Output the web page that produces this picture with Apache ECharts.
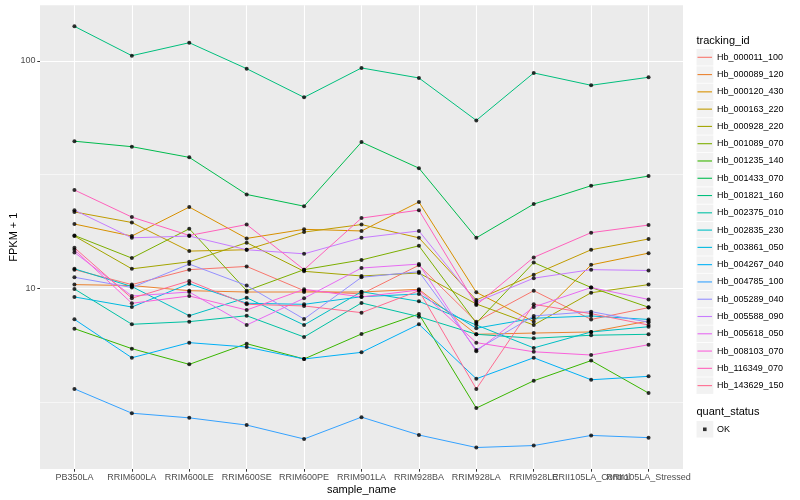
<!DOCTYPE html>
<html><head><meta charset="utf-8">
<script src="https://cdn.jsdelivr.net/npm/echarts@6/dist/echarts.min.js"></script>
<style>html,body{margin:0;padding:0;background:#fff}#c{width:800px;height:500px}</style>
</head><body><div id="c"></div>
<script>
const categories = ['PB350LA','RRIM600LA','RRIM600LE','RRIM600SE','RRIM600PE','RRIM901LA','RRIM928BA','RRIM928LA','RRIM928LE','RRII105LA_Control','RRII105LA_Stressed'];
const trackingIds = ['Hb_000011_100','Hb_000089_120','Hb_000120_430','Hb_000163_220','Hb_000928_220','Hb_001089_070','Hb_001235_140','Hb_001433_070','Hb_001821_160','Hb_002375_010','Hb_002835_230','Hb_003861_050','Hb_004267_040','Hb_004785_100','Hb_005289_040','Hb_005588_090','Hb_005618_050','Hb_008103_070','Hb_116349_070','Hb_143629_150'];
const colors = ['#F8766D','#EA8331','#D89000','#C09B00','#A3A500','#7CAE00','#39B600','#00BB4E','#00BF7D','#00C1A3','#00BFC4','#00BAE0','#00B0F6','#35A2FF','#9590FF','#C77CFF','#E76BF3','#FA62DB','#FF62BC','#FF6C91'];
const yTicks = [10, 100];
const yMinorBreaks = [3.1623, 31.623];

// FPKM + 1 per sample (same order as categories)
const Hb_000011_100 = [12.1, 10.4, 12.1, 12.5, 9.78, 9.46, 12.65, 7.15, 9.78, 7.31, 8.24];
const Hb_000089_120 = [10.4, 10.3, 9.78, 9.65, 9.65, 9.65, 9.92, 6.29, 6.37, 6.44, 7.20];
const Hb_000120_430 = [19.2, 17.0, 22.8, 16.6, 18.2, 17.9, 24.0, 9.62, 7.15, 12.7, 14.3];
const Hb_000163_220 = [21.7, 19.5, 14.6, 14.8, 17.7, 19.1, 16.7, 8.90, 11.5, 14.8, 16.5];
const Hb_000928_220 = [17.0, 12.2, 13.1, 15.9, 11.9, 11.35, 11.7, 8.55, 6.91, 9.58, 10.4];
const Hb_001089_070 = [17.1, 13.6, 18.3, 9.78, 12.1, 13.35, 15.4, 7.05, 13.0, 10.1, 8.27];
const Hb_001235_140 = [6.66, 5.44, 4.64, 5.72, 4.90, 6.31, 7.72, 2.98, 3.93, 4.82, 3.47];
const Hb_001433_070 = [44.4, 42.0, 37.7, 25.9, 23.0, 44.0, 33.8, 16.7, 23.5, 28.3, 31.2];
const Hb_001821_160 = [142, 105.5, 120.3, 92.5, 69.2, 93.2, 84.2, 54.8, 88.6, 78.2, 84.8];
const Hb_002375_010 = [9.95, 6.96, 7.15, 7.59, 6.12, 8.64, 7.52, 6.29, 6.04, 6.23, 6.29];
const Hb_002835_230 = [12.2, 10.2, 7.59, 9.11, 6.91, 9.68, 8.78, 6.91, 5.48, 6.44, 6.79];
const Hb_003861_050 = [9.18, 8.29, 10.5, 8.61, 8.52, 9.20, 9.46, 6.69, 7.40, 7.57, 7.31];
const Hb_004267_040 = [7.32, 4.96, 5.78, 5.53, 4.90, 5.24, 6.96, 4.01, 4.96, 3.97, 4.11];
const Hb_004785_100 = [3.62, 2.83, 2.70, 2.51, 2.18, 2.72, 2.27, 2.00, 2.04, 2.26, 2.21];
const Hb_005289_040 = [11.2, 10.1, 12.8, 10.3, 7.34, 11.2, 11.85, 5.37, 7.57, 7.91, 7.11];
const Hb_005588_090 = [22.1, 16.7, 17.0, 14.8, 14.2, 16.7, 17.9, 8.72, 11.1, 12.1, 12.0];
const Hb_005618_050 = [14.4, 9.27, 9.65, 6.91, 9.06, 12.3, 12.8, 5.30, 8.29, 10.1, 8.95];
const Hb_008103_070 = [14.8, 8.61, 9.27, 8.04, 9.92, 9.18, 9.85, 5.78, 5.27, 5.10, 5.66];
const Hb_116349_070 = [27.1, 20.6, 17.1, 19.1, 12.1, 20.4, 22.1, 8.46, 13.7, 17.6, 19.0];
const Hb_143629_150 = [15.1, 9.06, 10.8, 8.52, 8.38, 7.83, 9.78, 3.62, 8.52, 7.75, 6.91];

const values = [Hb_000011_100, Hb_000089_120, Hb_000120_430, Hb_000163_220, Hb_000928_220, Hb_001089_070, Hb_001235_140, Hb_001433_070, Hb_001821_160, Hb_002375_010, Hb_002835_230, Hb_003861_050, Hb_004267_040, Hb_004785_100, Hb_005289_040, Hb_005588_090, Hb_005618_050, Hb_008103_070, Hb_116349_070, Hb_143629_150];

const FONT = '"Liberation Sans", Arial, Helvetica, sans-serif';
const panel = {left: 40, right: 683, top: 5.3, bottom: 469};
const pad = 0.6; // discrete-axis expansion on each side (in category units)
const unit = (panel.right - panel.left) / (categories.length - 1 + 2 * pad);
const legendTop = 48.66, rowH = 17.28, keyX = 696.5;

const catIdx = categories.map((c, i) => i);
const series = trackingIds.map((id, k) => ({
  name: id, type: 'line', z: 2, silent: true, xAxisIndex: 0, yAxisIndex: 0,
  data: values[k].map((v, i) => [i, v]),
  symbol: 'none', showSymbol: false,
  lineStyle: {width: 1, color: colors[k]},
  itemStyle: {color: colors[k]},
  emphasis: {disabled: true}
}));
series[0].markLine = {
  silent: true, symbol: 'none', z: 1, animation: false,
  label: {show: false},
  lineStyle: {color: '#ffffff', width: 0.55, type: 'solid'},
  emphasis: {disabled: true},
  data: yMinorBreaks.map(v => ({yAxis: v}))
};
const pts = [];
values.forEach(arr => arr.forEach((v, i) => pts.push([i, v])));
series.push({
  name: 'OK', type: 'scatter', z: 3, silent: true, data: pts, xAxisIndex: 0, yAxisIndex: 0,
  symbol: 'circle', symbolSize: 4, itemStyle: {color: '#000000'},
  emphasis: {disabled: true}
});

const graphics = [];
trackingIds.forEach((id, k) => {
  graphics.push({type: 'rect', z: 0, silent: true,
    shape: {x: keyX, y: legendTop + rowH * k + 0.4, width: 16.8, height: rowH - 0.8},
    style: {fill: '#F2F2F2'}});
});
graphics.push({type: 'rect', z: 0, silent: true,
  shape: {x: keyX, y: 429.3 - rowH / 2 + 0.4, width: 16.8, height: rowH - 0.8},
  style: {fill: '#F2F2F2'}});
graphics.push({type: 'text', z: 5, silent: true, x: 696.5, y: 40.7,
  style: {text: 'tracking_id', fontSize: 11, fontFamily: FONT, fill: '#000', verticalAlign: 'middle', align: 'left'}});
graphics.push({type: 'text', z: 5, silent: true, x: 696.5, y: 412.3,
  style: {text: 'quant_status', fontSize: 11, fontFamily: FONT, fill: '#000', verticalAlign: 'middle', align: 'left'}});

const chart = echarts.init(document.getElementById('c'));
chart.setOption({
  animation: false,
  backgroundColor: '#ffffff',
  textStyle: {fontFamily: FONT},
  grid: [
    {left: panel.left, top: panel.top, width: panel.right - panel.left, height: panel.bottom - panel.top,
     show: true, backgroundColor: '#EBEBEB', borderWidth: 0, containLabel: false, outerBoundsMode: 'none'},
    {left: panel.left + pad * unit, top: panel.top, width: unit * (categories.length - 1), height: panel.bottom - panel.top,
     show: false, containLabel: false, outerBoundsMode: 'none'}
  ],
  xAxis: [
    {
      gridIndex: 0, type: 'value', min: -pad, max: categories.length - 1 + pad,
      axisLine: {show: false, onZero: false},
      axisTick: {show: false, customValues: catIdx},
      axisLabel: {show: false, customValues: catIdx},
      splitLine: {show: true, lineStyle: {color: '#ffffff', width: 1.1}}
    },
    {
      gridIndex: 1, type: 'category', data: categories, boundaryGap: false,
      axisLine: {show: false, onZero: false},
      axisTick: {show: true, interval: 0, length: 2.7, lineStyle: {color: '#333333', width: 1}},
      axisLabel: {interval: 0, fontSize: 9, color: '#4D4D4D', margin: 4, fontFamily: FONT, hideOverlap: false},
      splitLine: {show: false},
      name: 'sample_name', nameLocation: 'middle', nameGap: 15, nameMoveOverlap: false,
      nameTextStyle: {fontSize: 11, color: '#000', fontFamily: FONT}
    }
  ],
  yAxis: [
    {
      gridIndex: 0, type: 'log', logBase: 10, min: 1.609, max: 175.7,
      axisLine: {show: false, onZero: false},
      axisTick: {show: true, customValues: yTicks, length: 2.7, lineStyle: {color: '#333333', width: 1}},
      axisLabel: {customValues: yTicks, formatter: v => String(v), fontSize: 9, color: '#4D4D4D', margin: 4.5, fontFamily: FONT,
                  showMinLabel: true, showMaxLabel: true},
      splitLine: {show: true, lineStyle: {color: '#ffffff', width: 1.1}},
      minorSplitLine: {show: false},
      name: 'FPKM + 1', nameLocation: 'middle', nameGap: 21, nameRotate: 90, nameMoveOverlap: false,
      nameTextStyle: {fontSize: 11, color: '#000', fontFamily: FONT}
    },
    {gridIndex: 1, type: 'value', show: false}
  ],
  legend: [
    {data: trackingIds, orient: 'vertical', left: 697.5, top: legendTop, padding: 0,
     itemWidth: 14.5, itemHeight: 1.1, itemGap: 0, icon: 'rect', selectedMode: false,
     textStyle: {fontSize: 9, color: '#000', fontFamily: FONT, lineHeight: rowH}},
    {data: ['OK'], orient: 'vertical', left: 703, top: 429.3 - rowH / 2, padding: 0,
     itemWidth: 3.6, itemHeight: 3.6, itemGap: 0, icon: 'rect', selectedMode: false,
     textStyle: {fontSize: 9, color: '#000', fontFamily: FONT, lineHeight: rowH, padding: [0, 0, 0, 5.3]}}
  ],
  graphic: graphics,
  series: series
});
</script></body></html>
